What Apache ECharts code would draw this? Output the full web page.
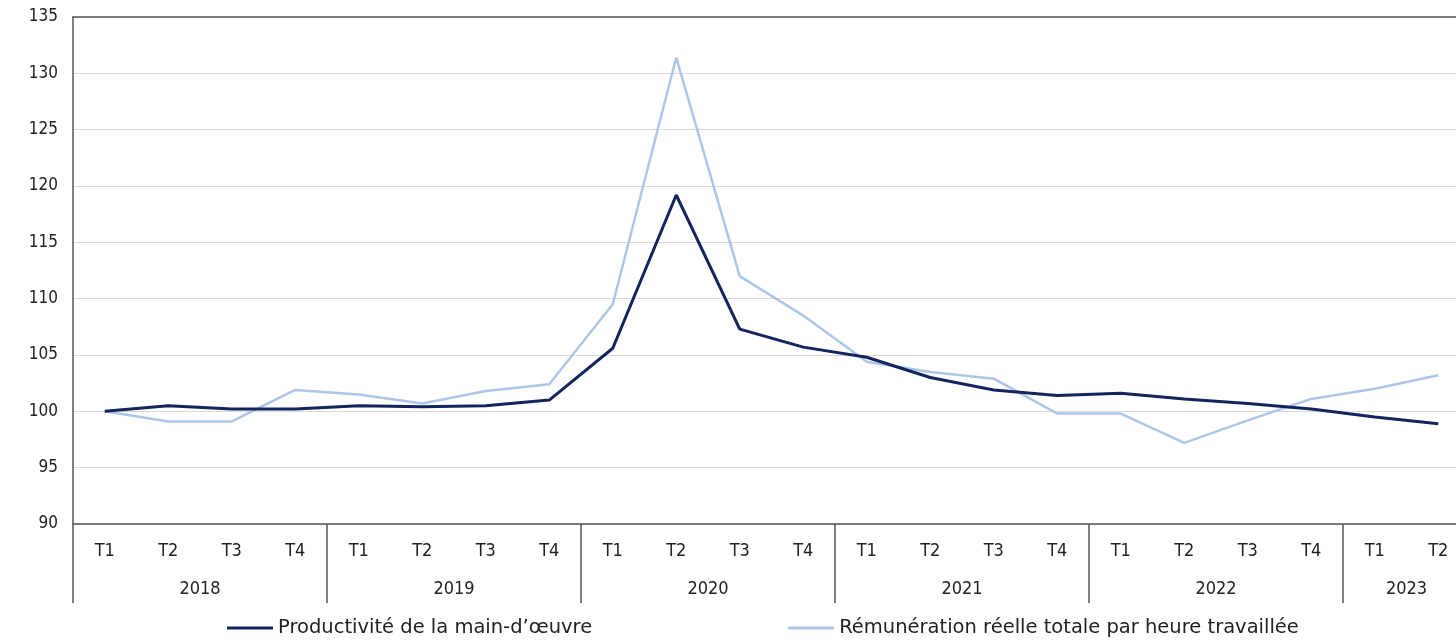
<!DOCTYPE html>
<html><head><meta charset="utf-8">
<script src="https://cdn.jsdelivr.net/npm/echarts@6/dist/echarts.min.js"></script>
<style>html,body{margin:0;padding:0;background:#fff;overflow:hidden}#c{width:1470px;height:640px}</style>
</head><body><div id="c"></div>
<script>
const quarters = ['T1','T2','T3','T4','T1','T2','T3','T4','T1','T2','T3','T4','T1','T2','T3','T4','T1','T2','T3','T4','T1','T2'];
const years = ['2018','2019','2020','2021','2022','2023'];
const quartersPerYear = [4,4,4,4,4,2];
const yTicks = [90,95,100,105,110,115,120,125,130,135];
const productivite = [100,100.5,100.2,100.2,100.5,100.4,100.5,101.0,105.6,119.2,107.3,105.7,104.8,103.0,101.9,101.4,101.6,101.1,100.7,100.2,99.5,98.9];
const remuneration = [100,99.1,99.1,101.9,101.5,100.7,101.8,102.4,109.5,131.4,112.0,108.5,104.4,103.5,102.9,99.8,99.8,97.2,99.2,101.1,102.0,103.2];
const seriesNames = ['Productivité de la main-d\u2019œuvre','Rémunération réelle totale par heure travaillée'];

// year axis built on boundaries between quarters (n+1 slots)
const yearSlots = new Array(quarters.length + 1).fill('');
const yearTickIdx = [0];
let pos = 0;
years.forEach((y, i) => {
  const n = quartersPerYear[i];
  yearSlots[pos + n / 2] = y;
  pos += n;
  yearTickIdx.push(pos);
});

const font = 'DejaVu Sans Condensed';
const chart = echarts.init(document.getElementById('c'));
chart.setOption({
  animation: false,
  backgroundColor: '#fff',
  grid: { left: 73, right: 0, top: 17, bottom: 116 },
  legend: {
    top: 613, left: 222, itemGap: 196, icon: 'rect', itemWidth: 46, itemHeight: 3,
    textStyle: { fontFamily: 'DejaVu Sans', fontSize: 19.5, color: '#222' },
    data: seriesNames
  },
  xAxis: [
    { type: 'category', data: quarters, position: 'bottom', boundaryGap: true,
      axisLine: { show: true, lineStyle: { color: '#555', width: 1.5 } },
      axisTick: { show: false },
      axisLabel: { interval: 0, margin: 18, fontFamily: font, fontSize: 18, color: '#222' },
      splitLine: { show: false } },
    { type: 'category', data: yearSlots, position: 'bottom', boundaryGap: false,
      axisLine: { show: false },
      axisTick: { show: true, length: 79, interval: (i) => yearTickIdx.includes(i), lineStyle: { color: '#555', width: 1.5 } },
      axisLabel: { interval: (i, v) => v !== '', margin: 56, fontFamily: font, fontSize: 18, color: '#222' },
      splitLine: { show: false } },
    { type: 'category', data: quarters, position: 'top',
      axisLine: { show: true, lineStyle: { color: '#555', width: 1.5 } },
      axisTick: { show: false }, axisLabel: { show: false }, splitLine: { show: false } }
  ],
  yAxis: {
    type: 'value', min: yTicks[0], max: yTicks[yTicks.length - 1], interval: 5,
    axisLine: { show: true, lineStyle: { color: '#555', width: 1.5 } },
    axisTick: { show: false },
    axisLabel: { margin: 15, fontFamily: font, fontSize: 17, color: '#222' },
    splitLine: { show: true, lineStyle: { color: '#d9d9d9', width: 1.2 } }
  },
  series: [
    { name: seriesNames[0], type: 'line', data: productivite, symbol: 'none', xAxisIndex: 0,
      lineStyle: { color: '#14245c', width: 3 }, itemStyle: { color: '#14245c' }, z: 3 },
    { name: seriesNames[1], type: 'line', data: remuneration, symbol: 'none', xAxisIndex: 0,
      lineStyle: { color: '#adc6e8', width: 2.5 }, itemStyle: { color: '#adc6e8' }, z: 2 }
  ]
});
</script></body></html>
